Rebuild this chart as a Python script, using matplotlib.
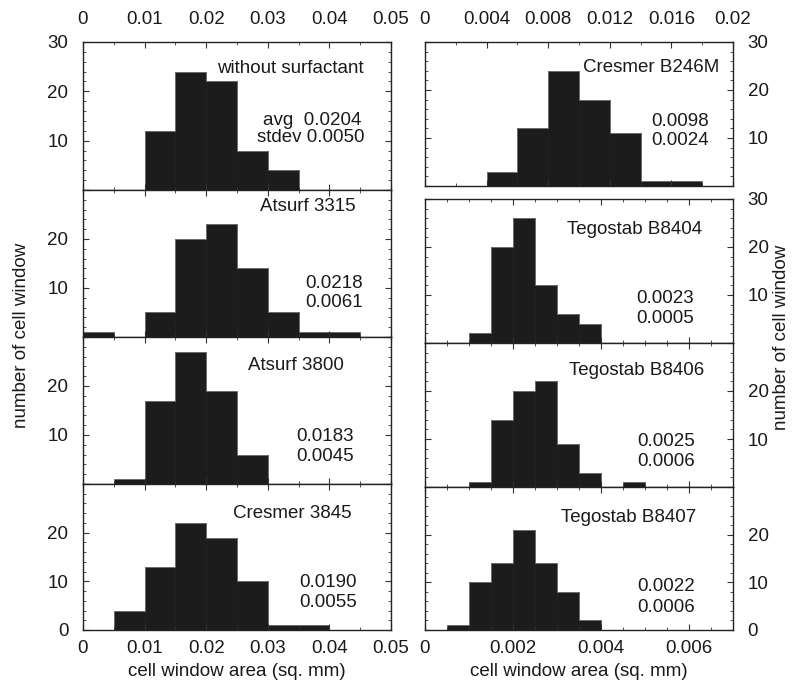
import matplotlib
matplotlib.use("Agg")
import matplotlib.pyplot as plt
import numpy as np
from matplotlib.ticker import MultipleLocator

plt.rcParams['font.family'] = ['Liberation Sans', 'DejaVu Sans']
FS = 13.5
TXT = '#1a1a1a'

# ---- data ----
left_names = ['without surfactant', 'Atsurf 3315', 'Atsurf 3800', 'Cresmer 3845']
left_edges = [0, 0.005, 0.01, 0.015, 0.02, 0.025, 0.03, 0.035, 0.04, 0.045, 0.05]
left_counts = [
    [0, 0, 12, 24, 22, 8, 4, 0, 0, 0],
    [1, 0, 5, 20, 23, 14, 5, 1, 1, 0],
    [0, 1, 17, 27, 19, 6, 0, 0, 0, 0],
    [0, 4, 13, 22, 19, 10, 1, 1, 0, 0],
]
left_avg = ['0.0204', '0.0218', '0.0183', '0.0190']
left_sd = ['0.0050', '0.0061', '0.0045', '0.0055']

top_right_name = 'Cresmer B246M'
top_right_edges = [0, 0.002, 0.004, 0.006, 0.008, 0.010, 0.012, 0.014, 0.016, 0.018, 0.020]
top_right_counts = [0, 0, 3, 12, 24, 18, 11, 1, 1, 0]
top_right_avg = '0.0098'
top_right_sd = '0.0024'

right_names = ['Tegostab B8404', 'Tegostab B8406', 'Tegostab B8407']
right_edges = [0, 0.0005, 0.001, 0.0015, 0.002, 0.0025, 0.003, 0.0035, 0.004,
               0.0045, 0.005, 0.0055, 0.006, 0.0065, 0.007]
right_counts = [
    [0, 0, 2, 20, 26, 12, 6, 4, 0, 0, 0, 0, 0, 0],
    [0, 0, 1, 14, 20, 22, 9, 3, 0, 1, 0, 0, 0, 0],
    [0, 1, 10, 14, 21, 14, 8, 2, 0, 0, 0, 0, 0, 0],
]
right_avg = ['0.0023', '0.0025', '0.0022']
right_sd = ['0.0005', '0.0006', '0.0006']

left_xticks = [0, 0.01, 0.02, 0.03, 0.04, 0.05]
left_xticklabels = ['0', '0.01', '0.02', '0.03', '0.04', '0.05']
tr_xticks = [0, 0.004, 0.008, 0.012, 0.016, 0.02]
tr_xticklabels = ['0', '0.004', '0.008', '0.012', '0.016', '0.02']
br_xticks = [0, 0.002, 0.004, 0.006]
br_xticklabels = ['0', '0.002', '0.004', '0.006']

# ---- layout (pixels) ----
W, H = 793, 689
fig = plt.figure(figsize=(W / 100, H / 100), dpi=100)

def add_ax(x0, x1, y0, y1):
    return fig.add_axes([x0 / W, 1 - y1 / H, (x1 - x0) / W, (y1 - y0) / H])

left_rows = [(42, 190), (190, 337), (337, 484), (484, 630)]
right_rows = [(42, 186), (199, 343), (343, 487), (487, 630)]
LX0, LX1 = 83, 391
RX0, RX1 = 425, 733

def style(ax, side):
    for s in ax.spines.values():
        s.set_linewidth(1.0)
        s.set_color('#222222')
        s.set_zorder(5)
    ax.tick_params(which='both', direction='in', top=True, bottom=True,
                   left=True, right=True, colors='#333333', labelcolor=TXT,
                   labelsize=FS)
    ax.tick_params(which='major', length=4.5, width=0.8)
    ax.tick_params(which='minor', length=2.5, width=0.6)
    ax.tick_params(axis='y', pad=10.5)
    if side == 'left':
        ax.tick_params(axis='y', labelleft=True, labelright=False)
    else:
        ax.tick_params(axis='y', labelleft=False, labelright=True)
    ax.yaxis.set_minor_locator(MultipleLocator(2))
    ax.set_ylim(0, 30)

def bars(ax, edges, counts):
    e = np.array(edges)
    ax.bar(e[:-1], counts, width=np.diff(e), align='edge',
           color='#1c1c1c', edgecolor='#1c1c1c', linewidth=0.5)
    ax.stairs(counts, e, color='#6e6e6e', linewidth=0.7, baseline=None)

def labels(ax, name, nxy, avg, sd, sxy, with_words=False):
    ax.text(nxy[0], nxy[1], name, transform=ax.transAxes, ha='right',
            va='center', fontsize=FS, color=TXT)
    if with_words:
        ax.text(sxy[0], sxy[1], 'avg  ' + avg, transform=ax.transAxes, ha='right',
                va='center', fontsize=FS, color=TXT)
        ax.text(sxy[0] + 0.01, sxy[2], 'stdev ' + sd, transform=ax.transAxes,
                ha='right', va='center', fontsize=FS, color=TXT)
    else:
        ax.text(sxy[0], sxy[1], avg, transform=ax.transAxes, ha='right',
                va='center', fontsize=FS, color=TXT)
        ax.text(sxy[0], sxy[2], sd, transform=ax.transAxes, ha='right',
                va='center', fontsize=FS, color=TXT)

left_name_pos = [(0.910, 0.824), (0.886, 0.891), (0.847, 0.805), (0.872, 0.799)]
left_stat_pos = [(0.905, 0.470, 0.355), (0.908, 0.367, 0.238),
                 (0.880, 0.320, 0.184), (0.890, 0.322, 0.185)]
left_ylabels = [['', '10', '20', '30'], ['', '10', '20', ''],
                ['', '10', '20', ''], ['0', '10', '20', '']]

for i, (y0, y1) in enumerate(left_rows):
    ax = add_ax(LX0, LX1, y0, y1)
    style(ax, 'left')
    bars(ax, left_edges, left_counts[i])
    ax.set_xlim(0, 0.05)
    ax.set_xticks(left_xticks)
    ax.xaxis.set_minor_locator(MultipleLocator(0.005))
    ax.set_yticks([0, 10, 20, 30])
    ax.set_yticklabels(left_ylabels[i])
    if i == 0:
        ax.set_xticklabels(left_xticklabels)
        ax.tick_params(axis='x', labeltop=True, labelbottom=False, pad=10)
    elif i == 3:
        ax.set_xticklabels(left_xticklabels)
        ax.tick_params(axis='x', labeltop=False, labelbottom=True, pad=7)
    else:
        ax.tick_params(axis='x', labeltop=False, labelbottom=False)
    labels(ax, left_names[i], left_name_pos[i], left_avg[i], left_sd[i],
           left_stat_pos[i], with_words=(i == 0))

# top right panel
ax = add_ax(RX0, RX1, *right_rows[0])
style(ax, 'right')
bars(ax, top_right_edges, top_right_counts)
ax.set_xlim(0, 0.02)
ax.set_xticks(tr_xticks)
ax.set_xticklabels(tr_xticklabels)
ax.xaxis.set_minor_locator(MultipleLocator(0.002))
ax.tick_params(axis='x', labeltop=True, labelbottom=False, pad=10)
ax.set_yticks([0, 10, 20, 30])
ax.set_yticklabels(['', '10', '20', '30'])
labels(ax, top_right_name, (0.955, 0.826), top_right_avg, top_right_sd,
       (0.923, 0.447, 0.319))

right_name_pos = [(0.900, 0.785), (0.906, 0.808), (0.880, 0.790)]
right_stat_pos = [(0.874, 0.310, 0.171), (0.877, 0.315, 0.176), (0.877, 0.303, 0.156)]
right_ylabels = [['', '10', '20', '30'], ['', '10', '20', ''], ['0', '10', '20', '']]

for i in range(3):
    y0, y1 = right_rows[i + 1]
    ax = add_ax(RX0, RX1, y0, y1)
    style(ax, 'right')
    bars(ax, right_edges, right_counts[i])
    ax.set_xlim(0, 0.007)
    ax.set_xticks(br_xticks)
    ax.xaxis.set_minor_locator(MultipleLocator(0.0005))
    ax.set_yticks([0, 10, 20, 30])
    ax.set_yticklabels(right_ylabels[i])
    if i == 2:
        ax.set_xticklabels(br_xticklabels)
        ax.tick_params(axis='x', labeltop=False, labelbottom=True, pad=7)
    else:
        ax.tick_params(axis='x', labeltop=False, labelbottom=False)
    labels(ax, right_names[i], right_name_pos[i], right_avg[i], right_sd[i],
           right_stat_pos[i])

# axis titles
fig.text(22 / W, 1 - 335 / H, 'number of cell window', rotation=90,
         ha='center', va='center', fontsize=FS, color=TXT)
fig.text(782 / W, 1 - 337 / H, 'number of cell window', rotation=90,
         ha='center', va='center', fontsize=FS, color=TXT)
fig.text((LX0 + LX1) / 2 / W, 1 - 671 / H, 'cell window area (sq. mm)',
         ha='center', va='center', fontsize=FS, color=TXT)
fig.text((RX0 + RX1) / 2 / W, 1 - 671 / H, 'cell window area (sq. mm)',
         ha='center', va='center', fontsize=FS, color=TXT)

fig.savefig('out.png', dpi=100, facecolor='white')
